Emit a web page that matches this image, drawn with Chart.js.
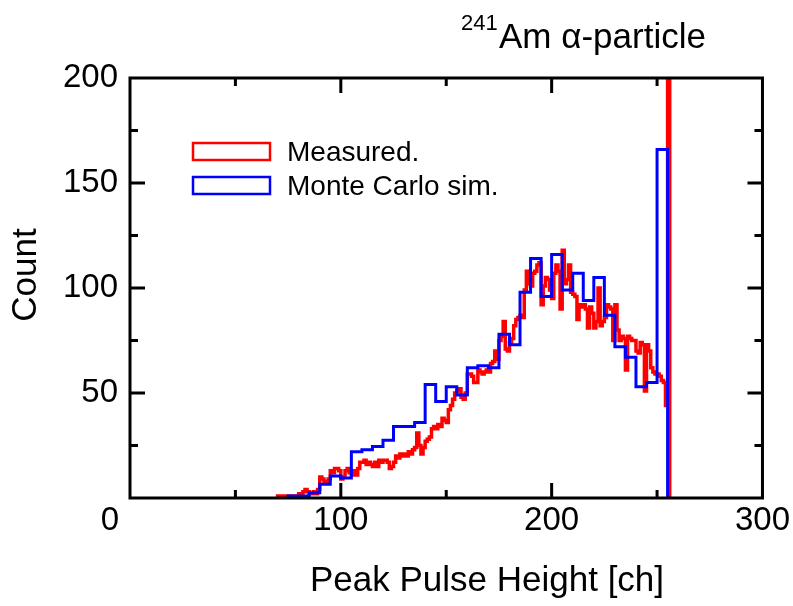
<!DOCTYPE html>
<html>
<head>
<meta charset="utf-8">
<script src="https://cdn.jsdelivr.net/npm/chart.js@4.4.1/dist/chart.umd.min.js"></script>
<style>
  html, body { margin: 0; padding: 0; background: #fff; }
  #wrap { width: 793px; height: 606px; position: relative; }
</style>
</head>
<body>
<div id="wrap"><canvas id="spectrum"></canvas></div>
<script>
/***** Data *****/
// Measured spectrum, one count per channel starting at MEASURED_START (last channel is the overflow spike)
const MEASURED_START = 70;
const measuredCounts = [
    1, 1, 0, 1, 1, 0, 1, 1, 1, 1,
    2, 1, 3, 4, 3, 2, 2, 3, 2, 4,
    10, 9, 7, 8, 9, 13, 12, 14, 14, 13,
    9, 10, 13, 14, 12, 11, 13, 11, 14, 17,
    17, 18, 16, 17, 16, 15, 17, 15, 18, 17,
    18, 18, 17, 14, 15, 17, 20, 19, 21, 20,
    21, 20, 22, 21, 23, 24, 31, 25, 21, 24,
    27, 28, 29, 33, 34, 33, 35, 34, 38, 37,
    36, 42, 44, 47, 50, 51, 52, 48, 47, 50,
    59, 59, 58, 55, 55, 61, 60, 59, 60, 61,
    60, 64, 65, 70, 66, 75, 77, 84, 71, 70,
    74, 76, 82, 85, 86, 87, 86, 99, 108, 102,
    101, 107, 108, 111, 112, 92, 101, 105, 104, 99,
    95, 107, 111, 108, 90, 118, 102, 104, 111, 98,
    97, 96, 85, 92, 91, 92, 90, 81, 91, 88,
    81, 84, 100, 82, 84, 86, 92, 91, 90, 75,
    92, 80, 75, 77, 76, 61, 77, 76, 75, 75,
    70, 69, 74, 73, 51, 73, 70, 62, 60, 59,
    59, 58, 56, 55, 44, 999
];
// Monte Carlo simulation, bin left edges and counts (bins are 5 ch wide)
const mcEdges = [75, 80, 85, 90, 95, 100, 105, 110, 115, 120,
                 125, 130, 135, 140, 145, 150, 155, 160, 165, 170,
                 175, 180, 185, 190, 195, 200, 205, 210, 215, 220,
                 225, 230, 235, 240, 245, 250];
const mcCounts = [1, 1, 2.5, 6.5, 10.5, 9.5, 22, 23, 24.5, 27.5,
                  34, 34, 36, 54, 46, 53, 49, 62, 63, 62,
                  78, 73, 98, 114, 96, 116, 99, 107, 94, 105,
                  87, 72, 67, 53, 55, 166];
const MC_BIN_WIDTH = 5;
const xTicks = [0, 50, 100, 150, 200, 250, 300];
const yTicks = [0, 25, 50, 75, 100, 125, 150, 175, 200];

const FONT = "'Liberation Sans', Arial, sans-serif";

/***** Build step histograms *****/
function measuredPoints() {
    let pts = [{x: MEASURED_START, y: 0}];
    for (let i = 0; i < measuredCounts.length; i++) {
        pts.push({x: MEASURED_START + i, y: measuredCounts[i]});
    }
    pts.push({x: MEASURED_START + measuredCounts.length, y: 0});
    return pts;
}

function mcPoints() {
    let pts = [{x: mcEdges[0], y: 0}];
    for (let i = 0; i < mcEdges.length; i++) {
        pts.push({x: mcEdges[i], y: mcCounts[i]});
    }
    pts.push({x: mcEdges[mcEdges.length - 1] + MC_BIN_WIDTH, y: 0});
    return pts;
}

/***** Frame, inner ticks, legend and texts *****/
const decorations = {
    id: 'decorations',
    afterDatasetsDraw(chart) {
        const ctx = chart.ctx;
        const a = chart.chartArea;
        const xs = chart.scales.x, ys = chart.scales.y;
        ctx.save();
        ctx.strokeStyle = '#000';
        ctx.lineWidth = 3;
        ctx.lineCap = 'square';
        ctx.strokeRect(a.left, a.top, a.right - a.left, a.bottom - a.top);

        ctx.lineCap = 'butt';
        ctx.beginPath();
        xTicks.forEach(v => {
            if (v === 0 || v === 300) return;
            let px = xs.getPixelForValue(v);
            let len = (v % 100 === 0) ? 15 : 8;
            ctx.moveTo(px, a.bottom); ctx.lineTo(px, a.bottom - len);
            ctx.moveTo(px, a.top); ctx.lineTo(px, a.top + len);
        });
        yTicks.forEach(v => {
            if (v === 0 || v === 200) return;
            let py = ys.getPixelForValue(v);
            let len = (v % 50 === 0) ? 15 : 8;
            ctx.moveTo(a.left, py); ctx.lineTo(a.left + len, py);
            ctx.moveTo(a.right, py); ctx.lineTo(a.right - len, py);
        });
        ctx.stroke();

        // legend
        const items = [
            {label: chart.data.datasets[0].label, color: chart.data.datasets[0].borderColor, y: 143},
            {label: chart.data.datasets[1].label, color: chart.data.datasets[1].borderColor, y: 177}
        ];
        ctx.lineWidth = 2.5;
        ctx.font = '28px ' + FONT;
        ctx.textBaseline = 'middle';
        ctx.textAlign = 'left';
        items.forEach(it => {
            ctx.strokeStyle = it.color;
            ctx.strokeRect(193, it.y, 77, 17);
            ctx.fillStyle = '#000';
            ctx.fillText(it.label, 287, it.y + 10);
        });

        // origin label
        ctx.font = '33px ' + FONT;
        ctx.textAlign = 'center';
        ctx.fillText('0', 110, 521);

        // axis titles
        ctx.font = '35px ' + FONT;
        ctx.fillText('Peak Pulse Height [ch]', 487, 581);
        ctx.save();
        ctx.translate(26, 275);
        ctx.rotate(-Math.PI / 2);
        ctx.fillText('Count', 0, 0);
        ctx.restore();

        // title with superscript
        ctx.textBaseline = 'alphabetic';
        ctx.textAlign = 'left';
        ctx.font = '22px ' + FONT;
        ctx.fillText('241', 461, 30);
        ctx.font = '35px ' + FONT;
        ctx.fillText('Am \u03B1-particle', 499, 48);
        ctx.restore();
    }
};

new Chart('spectrum', {
    type: 'line',
    data: {
        datasets: [{
            label: 'Measured.',
            data: measuredPoints(),
            borderColor: '#ff0000',
            borderWidth: 3.5,
            stepped: 'before',
            pointRadius: 0,
            fill: false,
            order: 2
        }, {
            label: 'Monte Carlo sim.',
            data: mcPoints(),
            borderColor: '#0000ff',
            borderWidth: 3,
            stepped: 'before',
            pointRadius: 0,
            fill: false,
            order: 1
        }]
    },
    options: {
        responsive: true,
        maintainAspectRatio: false,
        animation: false,
        layout: {padding: {left: 0, right: 30, top: 78, bottom: 0}},
        plugins: {
            legend: {display: false},
            tooltip: {enabled: false}
        },
        scales: {
            x: {
                type: 'linear',
                min: 0, max: 300,
                afterFit: s => { s.height = 108; },
                afterBuildTicks: s => { s.ticks = [100, 200, 300].map(v => ({value: v})); },
                grid: {display: false, drawTicks: false},
                border: {display: false},
                ticks: {
                    padding: 3,
                    color: '#000',
                    font: {family: FONT, size: 33}
                }
            },
            y: {
                min: 0, max: 200,
                afterFit: s => { s.width = 130; },
                afterBuildTicks: s => { s.ticks = [50, 100, 150, 200].map(v => ({value: v})); },
                grid: {display: false, drawTicks: false},
                border: {display: false},
                ticks: {
                    padding: 12,
                    color: '#000',
                    font: {family: FONT, size: 33}
                }
            }
        }
    },
    plugins: [decorations]
});
</script>
</body>
</html>
